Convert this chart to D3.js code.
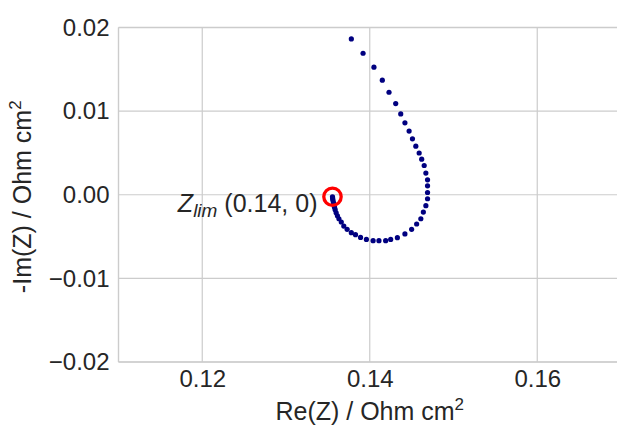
<!DOCTYPE html>
<html><head><meta charset="utf-8">
<script src="https://cdn.jsdelivr.net/npm/d3@7"></script>
<style>body{margin:0;background:#fff}svg{display:block;font-family:"Liberation Sans",Arial,sans-serif}</style>
</head><body><svg id="c" width="617" height="425"></svg>
<script>
const reZ = [0.1378,0.1392,0.1405,0.1415,0.1423,0.1431,0.1437,0.1442,0.1447,0.1451,0.1455,0.1459,0.1462,0.1465,0.1467,0.1469,0.1469,0.1469,0.1469,0.1467,0.1464,0.1461,0.1456,0.1450,0.1442,0.1433,0.1425,0.1419,0.1411,0.1404,0.1396,0.1389,0.1383,0.1378,0.1373,0.1369,0.1366,0.13632,0.13614,0.13599,0.13587,0.13579,0.13573,0.13567,0.13562,0.13558,0.13556,0.13555];
const negImZ = [0.01863,0.01692,0.01525,0.01370,0.01226,0.01090,0.00967,0.00860,0.00761,0.00669,0.00581,0.00499,0.00426,0.00350,0.00259,0.00179,0.00107,0.00027,-0.00048,-0.00131,-0.00207,-0.00287,-0.00350,-0.00414,-0.00469,-0.00513,-0.00534,-0.00549,-0.00549,-0.00549,-0.00534,-0.00510,-0.00478,-0.00454,-0.00414,-0.00374,-0.00326,-0.00287,-0.00251,-0.00215,-0.00179,-0.00149,-0.00119,-0.00096,-0.00072,-0.00051,-0.00036,-0.00024];
const zLim = [0.13555, -0.00024];
const xTicks = [0.12, 0.14, 0.16];
const yTicks = [-0.02, -0.01, 0.00, 0.01, 0.02];
const xDomain = [0.11, 0.17];
const yDomain = [-0.02, 0.02];

const svg = d3.select("#c");
const L = 118.5, R = 621, T = 27.5, B = 362;
const x = d3.scaleLinear().domain(xDomain).range([L, R]);
const y = d3.scaleLinear().domain(yDomain).range([B, T]);
const grid = "#cccccc", txt = "#262626";

// grid
svg.append("g").selectAll("line").data(xTicks).join("line")
  .attr("x1", d => x(d)).attr("x2", d => x(d)).attr("y1", T).attr("y2", B)
  .attr("stroke", grid).attr("stroke-width", 1.2);
svg.append("g").selectAll("line").data(yTicks).join("line")
  .attr("x1", L).attr("x2", R).attr("y1", d => y(d)).attr("y2", d => y(d))
  .attr("stroke", grid).attr("stroke-width", 1.2);
// spines
svg.append("line").attr("x1", L).attr("x2", L).attr("y1", T).attr("y2", B).attr("stroke", grid).attr("stroke-width", 1.4);
svg.append("line").attr("x1", L).attr("x2", R).attr("y1", B).attr("y2", B).attr("stroke", grid).attr("stroke-width", 1.4);
svg.append("line").attr("x1", L).attr("x2", R).attr("y1", T).attr("y2", T).attr("stroke", grid).attr("stroke-width", 1.4);

// axes (labels only)
const xa = svg.append("g").attr("transform", `translate(0,${B})`)
  .call(d3.axisBottom(x).tickValues(xTicks).tickSize(0).tickPadding(8).tickFormat(d3.format(".2f")));
xa.select(".domain").remove();
xa.selectAll("text").attr("font-size", 24).attr("fill", txt).attr("font-family", "Liberation Sans, Arial, sans-serif");
const ya = svg.append("g").attr("transform", `translate(${L},0)`)
  .call(d3.axisLeft(y).tickValues(yTicks).tickSize(0).tickPadding(9).tickFormat(d => d3.format(".2f")(d).replace("-", "\u2212")));
ya.select(".domain").remove();
ya.selectAll("text").attr("font-size", 24).attr("fill", txt).attr("font-family", "Liberation Sans, Arial, sans-serif");

// axis titles
const xl = svg.append("text").attr("x", (L + R) / 2).attr("y", 420).attr("text-anchor", "middle")
  .attr("font-size", 25).attr("fill", txt);
xl.append("tspan").text("Re(Z) / Ohm cm");
xl.append("tspan").attr("dy", -10).attr("font-size", 17).text("2");
const yl = svg.append("text").attr("transform", `translate(31,${(T + B) / 2 + 2}) rotate(-90)`).attr("text-anchor", "middle")
  .attr("font-size", 25).attr("fill", txt);
yl.append("tspan").text("-Im(Z) / Ohm cm");
yl.append("tspan").attr("dy", -10).attr("font-size", 17).text("2");

// data points
svg.append("g").selectAll("circle").data(reZ.map((r, i) => [r, negImZ[i]])).join("circle")
  .attr("cx", d => x(d[0])).attr("cy", d => y(d[1])).attr("r", 2.6).attr("fill", "#000080");

// Z_lim marker
svg.append("circle").attr("cx", x(zLim[0])).attr("cy", y(zLim[1])).attr("r", 8.7)
  .attr("fill", "none").attr("stroke", "#ff0000").attr("stroke-width", 3.3);

// annotation
const an = svg.append("text").attr("x", x(zLim[0]) - 15).attr("y", 212).attr("text-anchor", "end")
  .attr("font-size", 25).attr("fill", txt);
an.append("tspan").attr("font-style", "italic").text("Z");
an.append("tspan").attr("font-style", "italic").attr("font-size", 19).attr("dy", 5).text("lim");
an.append("tspan").attr("dy", -5).text(" (0.14, 0)");
</script></body></html>
